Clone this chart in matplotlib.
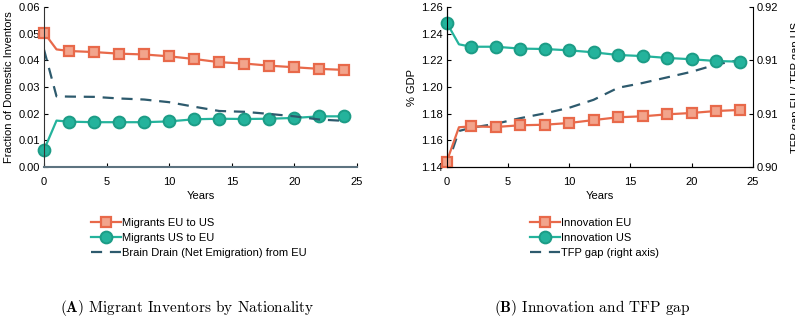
import matplotlib
matplotlib.use("Agg")
import matplotlib.pyplot as plt
from matplotlib.ticker import FormatStrFormatter
import numpy as np

plt.rcParams['font.family'] = ['Liberation Sans', 'DejaVu Sans']
plt.rcParams['mathtext.fontset'] = 'cm'

years = [0, 1, 2, 4, 6, 8, 10, 12, 14, 16, 18, 20, 22, 24]
marker_idx = [0, 2, 3, 4, 5, 6, 7, 8, 9, 10, 11, 12, 13]

migrants_eu_to_us = [0.0504, 0.0441, 0.0435, 0.0431, 0.0425, 0.0422, 0.0415,
                     0.0405, 0.0393, 0.0388, 0.0380, 0.0374, 0.0368, 0.0364]
migrants_us_to_eu = [0.0064, 0.0174, 0.0170, 0.0168, 0.0168, 0.0168, 0.0171,
                     0.0179, 0.0181, 0.0180, 0.0181, 0.0184, 0.0190, 0.0190]
brain_drain = [0.0440, 0.0265, 0.0264, 0.0263, 0.0257, 0.0253, 0.0243,
               0.0226, 0.0210, 0.0207, 0.0199, 0.0190, 0.0178, 0.0173]

innovation_eu = [1.1440, 1.1698, 1.1705, 1.1700, 1.1713, 1.1717, 1.1730,
                 1.1752, 1.1773, 1.1780, 1.1795, 1.1805, 1.1820, 1.1828]
innovation_us = [1.2482, 1.2320, 1.2302, 1.2302, 1.2288, 1.2285, 1.2275,
                 1.2260, 1.2240, 1.2232, 1.2218, 1.2208, 1.2195, 1.2190]
tfp_gap = [0.9000, 0.9045, 0.9049, 0.9054, 0.9061, 0.9067, 0.9074,
           0.9084, 0.9099, 0.9105, 0.9112, 0.9119, 0.9128, 0.9134]

ORANGE = '#E8694A'
ORANGE_FILL = '#F2A48C'
TEAL = '#24B39C'
TEAL_EDGE = '#1C9C86'
DASH = '#2D5A6D'

fig = plt.figure(figsize=(7.95, 3.23), dpi=100)
W, H = 795, 323

def axrect(x0, x1, y0, y1):
    return [x0 / W, 1 - y1 / H, (x1 - x0) / W, (y1 - y0) / H]

ax1 = fig.add_axes(axrect(44, 357, 7, 167))
ax2 = fig.add_axes(axrect(446.7, 752.7, 7, 167))
ax2r = ax2.twinx()

sq_kw = dict(marker='s', markersize=7, markerfacecolor=ORANGE_FILL,
             markeredgecolor=ORANGE, markeredgewidth=1.6, color=ORANGE,
             lw=1.6, markevery=marker_idx, clip_on=False)
ci_kw = dict(marker='o', markersize=8.5, markerfacecolor=TEAL,
             markeredgecolor=TEAL_EDGE, markeredgewidth=1.4, color=TEAL,
             lw=1.6, markevery=marker_idx, clip_on=False)
da_kw = dict(color=DASH, lw=1.6, linestyle=(0, (5, 3.5)))

l1, = ax1.plot(years, migrants_eu_to_us, label='Migrants EU to US', **sq_kw)
l2, = ax1.plot(years, migrants_us_to_eu, label='Migrants US to EU', **ci_kw)
l3, = ax1.plot(years, brain_drain, label='Brain Drain (Net Emigration) from EU', **da_kw)

r3, = ax2r.plot(years, tfp_gap, label='TFP gap (right axis)', **da_kw)
r1, = ax2.plot(years, innovation_eu, label='Innovation EU', **sq_kw)
r2, = ax2.plot(years, innovation_us, label='Innovation US', **ci_kw)
ax2.set_zorder(ax2r.get_zorder() + 1)
ax2.patch.set_visible(False)

# left panel axes
ax1.set_xlim(0, 25)
ax1.set_ylim(0, 0.06)
ax1.set_xticks([0, 5, 10, 15, 20, 25])
ax1.set_yticks(np.arange(0, 0.061, 0.01))
ax1.yaxis.set_major_formatter(FormatStrFormatter('%.2f'))
ax1.spines['top'].set_visible(False)
ax1.spines['right'].set_visible(False)
ax1.spines['bottom'].set_linestyle((0, (1, 1)))
ax1.spines['bottom'].set_color('#5d7380')
ax1.spines['bottom'].set_linewidth(1.5)
ax1.spines['left'].set_color('#333333')
ax1.set_ylabel('Fraction of Domestic Inventors', fontsize=8, labelpad=3)

# right panel axes
ax2.set_xlim(0, 25)
ax2.set_ylim(1.14, 1.26)
ax2.set_xticks([0, 5, 10, 15, 20, 25])
ax2.set_yticks(np.arange(1.14, 1.2601, 0.02))
ax2.yaxis.set_major_formatter(FormatStrFormatter('%.2f'))
ax2r.set_ylim(0.90, 0.92)
ax2r.set_yticks(np.linspace(0.90, 0.92, 4))
ax2r.yaxis.set_major_formatter(FormatStrFormatter('%.2f'))
for a in (ax2, ax2r):
    a.spines['top'].set_visible(False)
ax2.spines['right'].set_visible(False)
ax2.set_ylabel('% GDP', fontsize=8, labelpad=3)
ax2r.set_ylabel('TFP gap EU / TFP gap US', fontsize=8, labelpad=9)

for a in (ax1, ax2, ax2r):
    a.tick_params(axis='y', direction='in', length=3, width=0.8, labelsize=8, pad=3)
for a in (ax1, ax2):
    a.tick_params(axis='x', direction='in', length=3, width=0.8, labelsize=8, pad=7)
    a.set_xlabel('Years', fontsize=8, labelpad=3)

leg_kw = dict(frameon=False, fontsize=8, handlelength=2.7, handletextpad=0.15,
              borderpad=0, labelspacing=0.45, loc='upper left')
fig.legend(handles=[l1, l2, l3], bbox_to_anchor=(85 / W, 1 - 212 / H), **leg_kw)
fig.legend(handles=[r1, r2, r3], bbox_to_anchor=(524 / W, 1 - 212 / H), **leg_kw)

fig.text(187 / W, 1 - 312 / H, r'$\mathbf{(A)}$ Migrant Inventors by Nationality',
         family='cmr10', fontsize=11, ha='center', va='baseline')
fig.text(592 / W, 1 - 312 / H, r'$\mathbf{(B)}$ Innovation and TFP gap',
         family='cmr10', fontsize=11, ha='center', va='baseline')

fig.savefig('out.png', dpi=100)
